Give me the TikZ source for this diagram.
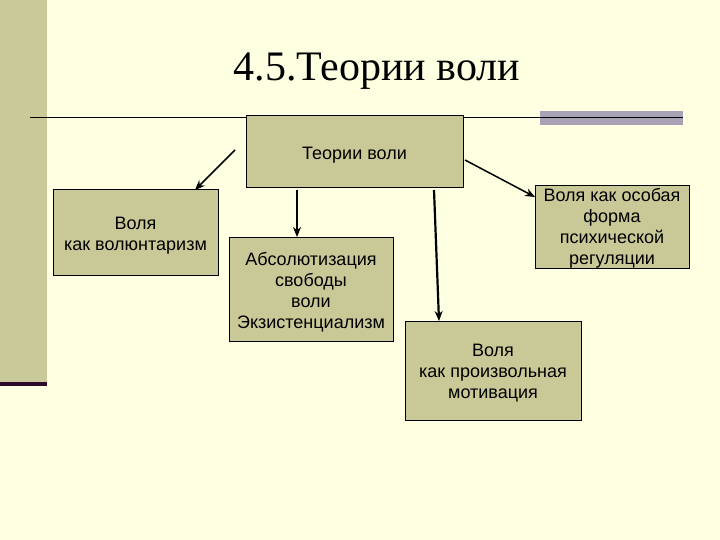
\documentclass[tikz,border=0pt]{standalone}
\usepackage{fontspec}
\setmainfont{Liberation Sans}
\newfontfamily\titlefont{Liberation Serif}
\usetikzlibrary{arrows.meta}
\definecolor{bg}{HTML}{FFFFE1}
\definecolor{khaki}{HTML}{C9C99A}
\definecolor{boxfill}{HTML}{C9C998}
\definecolor{darkpurple}{HTML}{2E0A2A}
\definecolor{greypurple}{HTML}{A9A2B6}
\tikzset{
  theorybox/.style={draw=black, line width=1pt, fill=boxfill, inner sep=0pt},
  boxtext/.style={align=center, inner sep=0pt, font=\fontsize{18}{21}\selectfont},
  link/.style={draw=black, line width=1.5pt, -{Stealth[length=10pt,width=8pt]}},
  thicklink/.style={draw=black, line width=2.2pt, -{Stealth[length=10pt,width=8pt]}}
}
\begin{document}
\begin{tikzpicture}[x=1pt,y=-1pt]
\useasboundingbox (0,0) rectangle (720,540);
\fill[bg] (0,0) rectangle (720,540);
\fill[khaki] (0,0) rectangle (47,383);
\fill[darkpurple] (0,382) rectangle (47,386);
\fill[greypurple] (540,111) rectangle (683,125);
\draw[black, line width=1.5pt] (30,117.5) -- (683,117.5);
\node[font=\titlefont\fontsize{42}{46}\selectfont] (title) at (377,71) {4.5.Теории воли};
% boxes
\node[theorybox, minimum width=217pt, minimum height=72pt] (top) at (354.5,152) {};
\node[theorybox, minimum width=165pt, minimum height=85pt] (left) at (135.5,232.5) {};
\node[theorybox, minimum width=164pt, minimum height=104pt] (mid) at (311,289) {};
\node[theorybox, minimum width=154pt, minimum height=82pt] (right) at (612,227) {};
\node[theorybox, minimum width=176pt, minimum height=99pt] (bottom) at (493,370.5) {};
% texts
\node[boxtext] (toptext) at ([yshift=-3pt]top.center) {Теории воли};
\node[boxtext] (lefttext) at ([yshift=-3pt]left.center) {Воля\\как волюнтаризм};
\node[boxtext] (midtext) at ([yshift=-3.5pt]mid.center) {Абсолютизация\\свободы\\воли\\Экзистенциализм};
\node[boxtext] (righttext) at ([yshift=-1.5pt]right.center) {Воля как особая\\форма\\психической\\регуляции};
\node[boxtext] (bottomtext) at ([yshift=-2.5pt]bottom.center) {Воля\\как произвольная\\мотивация};
% arrow end points
\coordinate (s1) at (235,150);
\coordinate (s2) at (297,190);
\coordinate (s3) at (434,190);
\coordinate (s4) at (465,160);
\coordinate (e1) at (195,190);
\coordinate (e2) at (297,237);
\coordinate (e3) at (439,321);
\coordinate (e4) at (535,197);
\draw[link] (s1) -- (e1);
\draw[link] (s2) -- (e2);
\draw[thicklink] (s3) -- (e3);
\draw[link] (s4) -- (e4);
\end{tikzpicture}
\end{document}
